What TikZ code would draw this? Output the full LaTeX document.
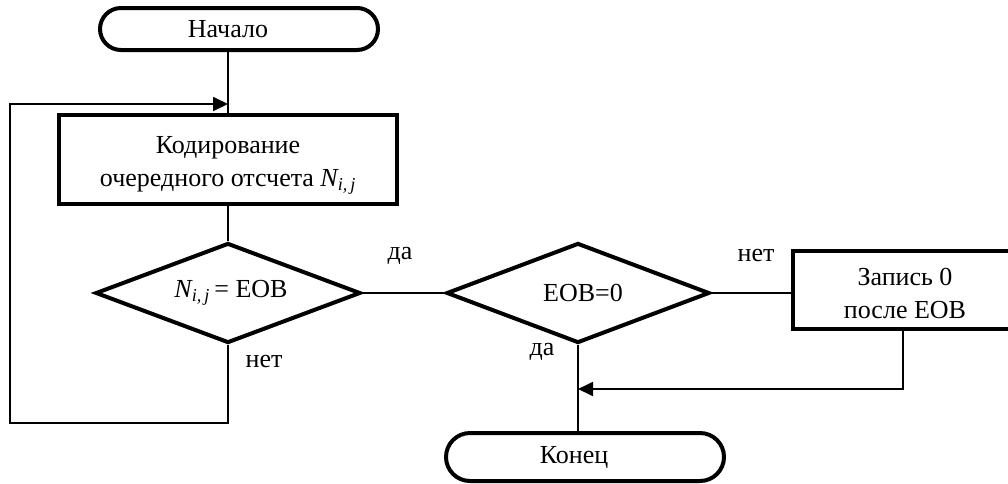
\documentclass[tikz,border=0pt]{standalone}
\usepackage{fontspec}
\setmainfont{Liberation Serif}
\usetikzlibrary{shapes.geometric,arrows.meta}
\tikzset{
  thickbox/.style={draw, line width=4pt, inner sep=0pt, align=center},
  term/.style={thickbox, rectangle, minimum width=278pt},
  procbox/.style={thickbox, rectangle},
  decision/.style={thickbox, diamond, aspect=2.65},
  conn/.style={line width=1.8pt},
  arr/.style={conn, -{Triangle[length=15pt,width=14pt]}},
  lbl/.style={inner sep=0pt}
}
\begin{document}
\begin{tikzpicture}[x=1pt,y=-1pt,font=\fontsize{26}{33}\selectfont]
\useasboundingbox (0,0) rectangle (1008,483);
\clip (0,0) rectangle (1008,483);
% nodes
\node[term, minimum height=42pt, rounded corners=21pt] (start) at (239,29) {\hspace*{-22pt}Начало};
\node[procbox, minimum width=338pt, minimum height=89pt] (box1) at (228,159) {\rule{0pt}{30pt}Кодирование\\очередного отсчета {\itshape N}\textsubscript{\itshape i,\,j}};
\node[decision, minimum width=265pt, minimum height=100pt] (d1) at (228,293) {\hspace*{6pt}{\itshape N}\textsubscript{\itshape i,\,j}\,= EOB};
\node[decision, minimum width=263pt, minimum height=100pt] (d2) at (578,293) {\hspace*{10pt}EOB=0};
\node[procbox, minimum width=224pt, minimum height=78pt] (box2) at (905,290) {\rule{0pt}{24pt}Запись 0\\после EOB};
\node[term, minimum height=48pt, rounded corners=24pt] (end) at (585,457) {\hspace*{-22pt}Конец};
% labels
\node[lbl] (l1) at (400,256) {да};
\node[lbl] (l2) at (756,255) {нет};
\node[lbl] (l3) at (542,352) {да};
\node[lbl] (l4) at (264,361) {нет};
% helper coordinates
\coordinate (lb) at (10,423);
\coordinate (lt) at (10,104);
\coordinate (m) at (903,389);
% connectors
\draw[conn] (box1.north |- start.south) -- (box1.north);
\draw[conn] (box1.south) -- (d1.north);
\draw[arr] (d1.south) |- (lb) -- (lt) -- (lt -| box1.north);
\draw[conn] (d1.east) -- (d2.west);
\draw[conn] (d2.east) -- (d2.east -| box2.west);
\draw[conn] (d2.south) -- (d2.south |- end.north);
\draw[arr] (box2.south -| m) -- (m) -- (m -| d2.south);
\end{tikzpicture}
\end{document}
